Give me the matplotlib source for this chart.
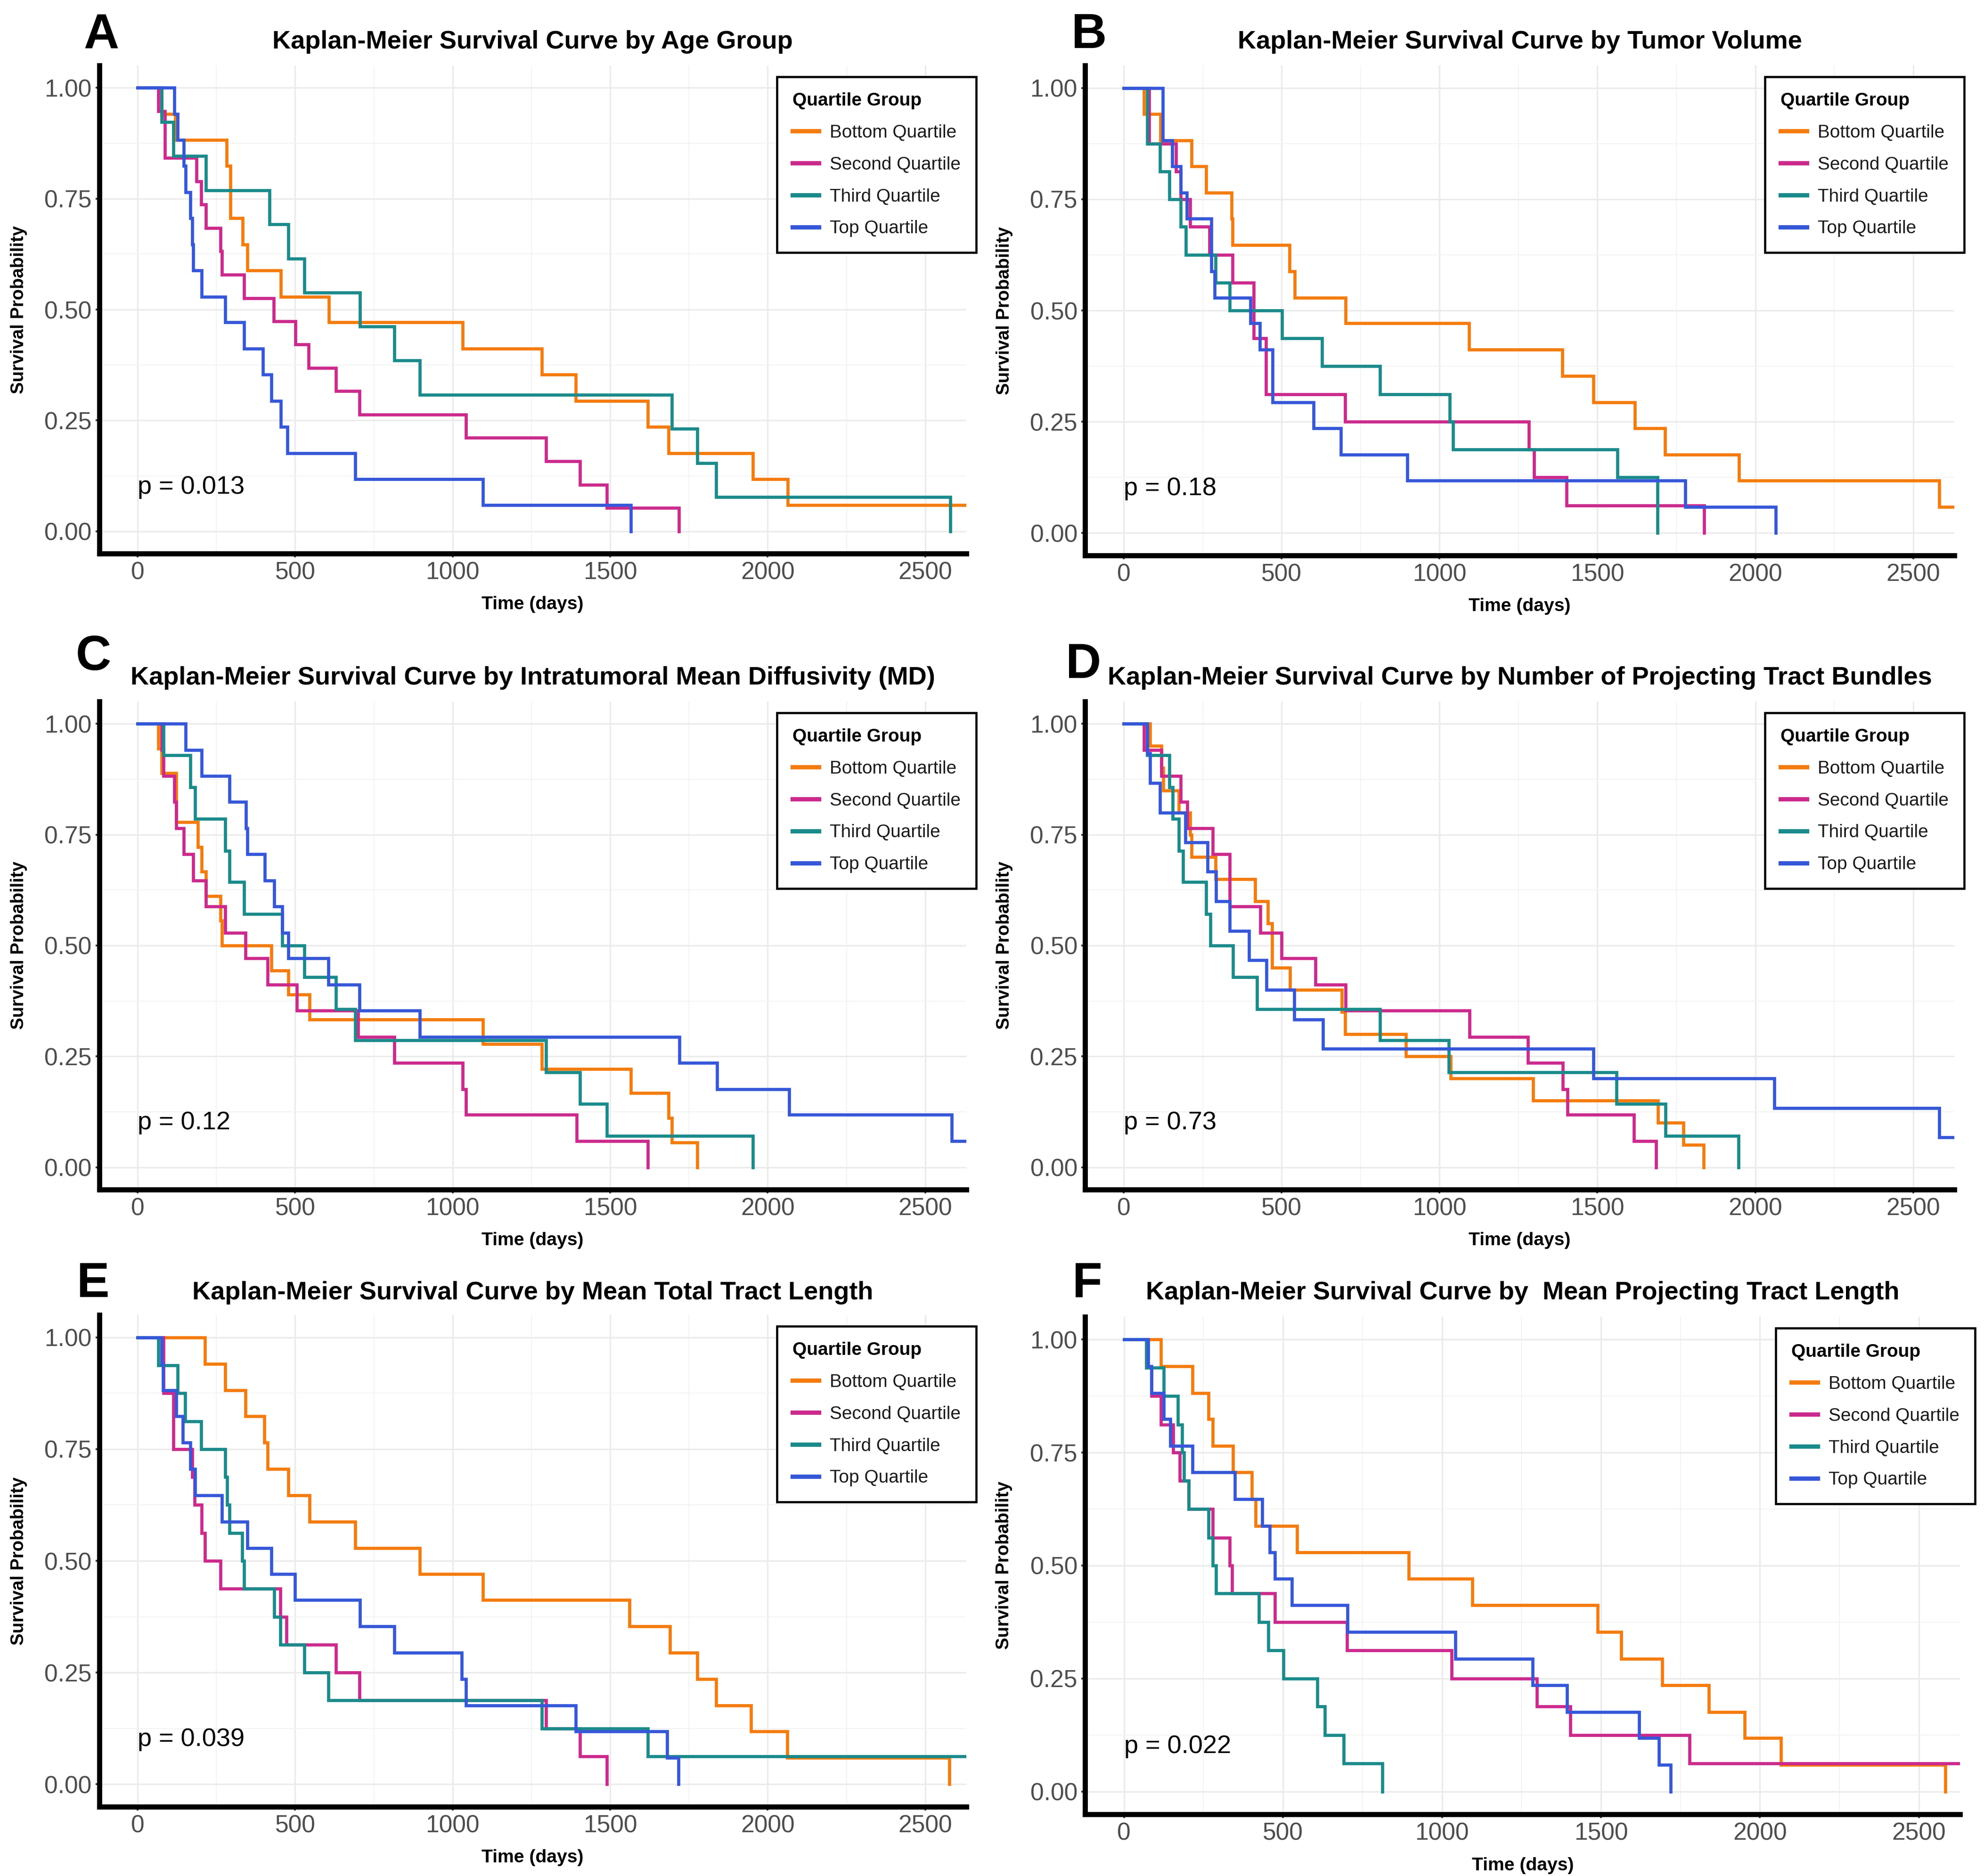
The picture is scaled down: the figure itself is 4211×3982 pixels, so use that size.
import matplotlib
matplotlib.use("Agg")
import matplotlib.pyplot as plt
from matplotlib.ticker import MultipleLocator

# ---- data (time in days, survival prob.) ----
groups = ["Bottom Quartile", "Second Quartile", "Third Quartile", "Top Quartile"]
colors = ["#F47B0E", "#CB2A8C", "#1B8A8A", "#3557D8"]

# A - age group
A_bottom_t = [0, 76, 120, 282, 294, 334, 348, 455, 607, 1032, 1283, 1390, 1619, 1685, 1953, 2064, 2700]
A_bottom_s = [1, 0.941, 0.882, 0.824, 0.706, 0.647, 0.588, 0.529, 0.471, 0.412, 0.353, 0.294, 0.235, 0.176, 0.118, 0.059, 0.059]
A_second_t = [0, 66, 86, 187, 201, 217, 263, 267, 338, 432, 501, 543, 630, 704, 1042, 1297, 1404, 1490, 1718]
A_second_s = [1, 0.947, 0.842, 0.789, 0.737, 0.684, 0.632, 0.579, 0.526, 0.474, 0.421, 0.368, 0.316, 0.263, 0.211, 0.158, 0.105, 0.053, 0.0]
A_third_t = [0, 76, 114, 217, 418, 479, 529, 706, 815, 895, 1695, 1776, 1836, 2580]
A_third_s = [1, 0.923, 0.846, 0.769, 0.692, 0.615, 0.538, 0.462, 0.385, 0.308, 0.231, 0.154, 0.077, 0.0]
A_top_t = [0, 117, 127, 147, 153, 167, 173, 177, 203, 278, 338, 398, 424, 455, 475, 690, 1096, 1565]
A_top_s = [1, 0.941, 0.882, 0.824, 0.765, 0.706, 0.647, 0.588, 0.529, 0.471, 0.412, 0.353, 0.294, 0.235, 0.176, 0.118, 0.059, 0.0]

# B - tumor volume
B_bottom_t = [0, 64, 116, 215, 261, 341, 345, 525, 541, 702, 1093, 1389, 1488, 1618, 1714, 1949, 2582, 2700]
B_bottom_s = [1, 0.941, 0.882, 0.824, 0.765, 0.706, 0.647, 0.588, 0.529, 0.471, 0.412, 0.353, 0.294, 0.235, 0.176, 0.118, 0.059, 0.059]
B_second_t = [0, 80, 166, 180, 210, 271, 345, 411, 451, 701, 1283, 1299, 1403, 1838]
B_second_s = [1, 0.875, 0.812, 0.75, 0.688, 0.625, 0.562, 0.438, 0.312, 0.25, 0.188, 0.125, 0.062, 0.0]
B_third_t = [0, 74, 114, 144, 180, 196, 291, 335, 501, 628, 812, 1032, 1042, 1564, 1690]
B_third_s = [1, 0.875, 0.812, 0.75, 0.688, 0.625, 0.562, 0.5, 0.438, 0.375, 0.312, 0.25, 0.188, 0.125, 0.0]
B_top_t = [0, 124, 154, 180, 200, 277, 287, 401, 431, 471, 601, 688, 898, 1778, 2065]
B_top_s = [1, 0.882, 0.824, 0.765, 0.706, 0.588, 0.529, 0.471, 0.412, 0.294, 0.235, 0.176, 0.118, 0.059, 0.0]

# C - intratumoral MD
C_bottom_t = [0, 66, 76, 123, 191, 203, 217, 263, 267, 424, 479, 545, 1096, 1283, 1565, 1685, 1695, 1776]
C_bottom_s = [1, 0.944, 0.889, 0.778, 0.722, 0.667, 0.611, 0.556, 0.5, 0.444, 0.389, 0.333, 0.278, 0.222, 0.167, 0.111, 0.056, 0.0]
C_second_t = [0, 76, 82, 117, 123, 147, 177, 217, 278, 342, 412, 505, 700, 815, 1032, 1042, 1394, 1619]
C_second_s = [1, 0.941, 0.882, 0.824, 0.765, 0.706, 0.647, 0.588, 0.529, 0.471, 0.412, 0.353, 0.294, 0.235, 0.176, 0.118, 0.059, 0.0]
C_third_t = [0, 82, 167, 183, 278, 292, 338, 459, 529, 630, 690, 1297, 1404, 1490, 1953]
C_third_s = [1, 0.929, 0.857, 0.786, 0.714, 0.643, 0.571, 0.5, 0.429, 0.357, 0.286, 0.214, 0.143, 0.071, 0.0]
C_top_t = [0, 153, 203, 292, 344, 348, 404, 434, 459, 479, 605, 704, 895, 1720, 1840, 2068, 2584, 2700]
C_top_s = [1, 0.941, 0.882, 0.824, 0.765, 0.706, 0.647, 0.588, 0.529, 0.471, 0.412, 0.353, 0.294, 0.235, 0.176, 0.118, 0.059, 0.059]

# D - number of projecting tract bundles
D_bottom_t = [0, 84, 119, 125, 175, 210, 215, 291, 416, 456, 470, 527, 691, 701, 894, 1035, 1296, 1692, 1773, 1837]
D_bottom_s = [1, 0.95, 0.9, 0.85, 0.8, 0.75, 0.7, 0.65, 0.6, 0.55, 0.45, 0.4, 0.35, 0.3, 0.25, 0.2, 0.15, 0.1, 0.05, 0.0]
D_second_t = [0, 64, 119, 181, 201, 281, 335, 432, 500, 607, 703, 1095, 1280, 1391, 1405, 1616, 1686]
D_second_s = [1, 0.941, 0.882, 0.824, 0.765, 0.706, 0.588, 0.529, 0.471, 0.412, 0.353, 0.294, 0.235, 0.176, 0.118, 0.059, 0.0]
D_third_t = [0, 74, 145, 155, 175, 187, 261, 275, 346, 422, 812, 1029, 1561, 1716, 1947]
D_third_s = [1, 0.929, 0.857, 0.786, 0.714, 0.643, 0.571, 0.5, 0.429, 0.357, 0.286, 0.214, 0.143, 0.071, 0.0]
D_top_t = [0, 74, 84, 115, 195, 265, 292, 336, 396, 452, 540, 631, 1487, 2060, 2582, 2700]
D_top_s = [1, 0.933, 0.867, 0.8, 0.733, 0.667, 0.6, 0.533, 0.467, 0.4, 0.333, 0.267, 0.2, 0.133, 0.067, 0.067]

# E - mean total tract length
E_bottom_t = [0, 213, 278, 342, 402, 412, 479, 545, 690, 895, 1096, 1561, 1689, 1776, 1836, 1947, 2062, 2576]
E_bottom_s = [1, 0.941, 0.882, 0.824, 0.765, 0.706, 0.647, 0.588, 0.529, 0.471, 0.412, 0.353, 0.294, 0.235, 0.176, 0.118, 0.059, 0.0]
E_second_t = [0, 82, 113, 173, 181, 203, 213, 263, 453, 473, 630, 704, 1297, 1404, 1490]
E_second_s = [1, 0.875, 0.75, 0.688, 0.625, 0.562, 0.5, 0.438, 0.375, 0.312, 0.25, 0.188, 0.125, 0.062, 0.0]
E_third_t = [0, 66, 127, 151, 201, 278, 284, 292, 332, 338, 434, 453, 529, 605, 1283, 1619, 2700]
E_third_s = [1, 0.938, 0.875, 0.812, 0.75, 0.688, 0.625, 0.562, 0.5, 0.438, 0.375, 0.312, 0.25, 0.188, 0.125, 0.062, 0.062]
E_top_t = [0, 76, 80, 123, 143, 167, 183, 267, 348, 424, 499, 706, 815, 1028, 1042, 1390, 1681, 1716]
E_top_s = [1, 0.941, 0.882, 0.824, 0.765, 0.706, 0.647, 0.588, 0.529, 0.471, 0.412, 0.353, 0.294, 0.235, 0.176, 0.118, 0.059, 0.0]

# F - mean projecting tract length
F_bottom_t = [0, 116, 215, 265, 279, 343, 402, 414, 544, 896, 1096, 1490, 1564, 1693, 1839, 1952, 2066, 2584]
F_bottom_s = [1, 0.941, 0.882, 0.824, 0.765, 0.706, 0.647, 0.588, 0.529, 0.471, 0.412, 0.353, 0.294, 0.235, 0.176, 0.118, 0.059, 0.0]
F_second_t = [0, 70, 86, 116, 155, 175, 203, 279, 333, 339, 474, 701, 1030, 1299, 1404, 1779, 2700]
F_second_s = [1, 0.938, 0.875, 0.812, 0.75, 0.688, 0.625, 0.562, 0.5, 0.438, 0.375, 0.312, 0.25, 0.188, 0.125, 0.062, 0.062]
F_third_t = [0, 70, 125, 169, 183, 189, 203, 265, 279, 289, 424, 454, 502, 608, 631, 691, 813]
F_third_s = [1, 0.938, 0.875, 0.812, 0.75, 0.688, 0.625, 0.562, 0.5, 0.438, 0.375, 0.312, 0.25, 0.188, 0.125, 0.062, 0.0]
F_top_t = [0, 76, 86, 125, 145, 215, 349, 434, 458, 474, 528, 703, 1042, 1285, 1394, 1620, 1683, 1719]
F_top_s = [1, 0.941, 0.882, 0.824, 0.765, 0.706, 0.647, 0.588, 0.529, 0.471, 0.412, 0.353, 0.294, 0.235, 0.176, 0.118, 0.059, 0.0]

letters = ["A", "B", "C", "D", "E", "F"]
titles = [
    "Kaplan-Meier Survival Curve by Age Group",
    "Kaplan-Meier Survival Curve by Tumor Volume",
    "Kaplan-Meier Survival Curve by Intratumoral Mean Diffusivity (MD)",
    "Kaplan-Meier Survival Curve by Number of Projecting Tract Bundles",
    "Kaplan-Meier Survival Curve by Mean Total Tract Length",
    "Kaplan-Meier Survival Curve by  Mean Projecting Tract Length",
]
p_values = ["p = 0.013", "p = 0.18", "p = 0.12", "p = 0.73", "p = 0.039", "p = 0.022"]

curves = [
    [(A_bottom_t, A_bottom_s), (A_second_t, A_second_s), (A_third_t, A_third_s), (A_top_t, A_top_s)],
    [(B_bottom_t, B_bottom_s), (B_second_t, B_second_s), (B_third_t, B_third_s), (B_top_t, B_top_s)],
    [(C_bottom_t, C_bottom_s), (C_second_t, C_second_s), (C_third_t, C_third_s), (C_top_t, C_top_s)],
    [(D_bottom_t, D_bottom_s), (D_second_t, D_second_s), (D_third_t, D_third_s), (D_top_t, D_top_s)],
    [(E_bottom_t, E_bottom_s), (E_second_t, E_second_s), (E_third_t, E_third_s), (E_top_t, E_top_s)],
    [(F_bottom_t, F_bottom_s), (F_second_t, F_second_s), (F_third_t, F_third_s), (F_top_t, F_top_s)],
]

# ---- layout (figure fractions) ----
ax_rects = [
    [0.050, 0.705, 0.437, 0.260],
    [0.547, 0.704, 0.438, 0.261],
    [0.050, 0.366, 0.437, 0.260],
    [0.547, 0.366, 0.438, 0.260],
    [0.050, 0.037, 0.437, 0.262],
    [0.547, 0.033, 0.441, 0.265],
]
title_y = [0.9776, 0.9776, 0.6386, 0.6386, 0.3110, 0.3110]
letter_pos = [(0.051, 0.981), (0.549, 0.981), (0.047, 0.6495), (0.546, 0.6454), (0.047, 0.3153), (0.548, 0.3153)]
legend_anchor = [(0.492, 0.959), (0.990, 0.959), (0.492, 0.620), (0.990, 0.620), (0.492, 0.293), (0.9955, 0.292)]

narrow = ["Liberation Sans Narrow", "Liberation Sans", "DejaVu Sans"]
regular = ["Liberation Sans", "DejaVu Sans"]
plt.rcParams["font.family"] = regular

fig = plt.figure(figsize=(4211 / 300, 3982 / 300), dpi=300)
fig.patch.set_facecolor("white")

for i in range(6):
    ax = fig.add_axes(ax_rects[i])
    for (t, s), col, name in zip(curves[i], colors, groups):
        ax.plot(t, s, drawstyle="steps-post", color=col, lw=1.6, label=name,
                solid_joinstyle="miter")

    ax.set_xlim(-122, 2630)
    ax.set_ylim(-0.05, 1.05)
    ax.xaxis.set_major_locator(MultipleLocator(500))
    ax.xaxis.set_minor_locator(MultipleLocator(250))
    ax.yaxis.set_major_locator(MultipleLocator(0.25))
    ax.yaxis.set_minor_locator(MultipleLocator(0.125))
    ax.yaxis.set_major_formatter(matplotlib.ticker.FormatStrFormatter("%.2f"))
    ax.grid(which="major", color="#EBEBEB", lw=0.8)
    ax.grid(which="minor", color="#F3F3F3", lw=0.45)
    ax.set_axisbelow(True)

    for side in ["top", "right"]:
        ax.spines[side].set_visible(False)
    for side in ["left", "bottom"]:
        ax.spines[side].set_linewidth(2.6)
        ax.spines[side].set_color("black")
    ax.tick_params(which="major", length=2.0, width=0.9, color="#333333",
                   labelcolor="#4D4D4D", labelsize=12.4, pad=2)
    ax.tick_params(which="minor", length=0)
    for lab in ax.get_xticklabels() + ax.get_yticklabels():
        lab.set_family(narrow)

    ax.set_xlabel("Time (days)", fontsize=9.4, fontweight="bold", family=narrow)
    ax.xaxis.set_label_coords(0.5, -0.087)
    ax.set_ylabel("Survival Probability", fontsize=9.2, fontweight="bold")
    ax.yaxis.set_label_coords(-0.083, 0.5)

    ax.text(0, 0.1, p_values[i], fontsize=13, ha="left", va="center", color="black")

    leg = ax.legend(title="Quartile Group", loc="upper right",
                    bbox_to_anchor=legend_anchor[i], bbox_transform=fig.transFigure,
                    fontsize=9.3, title_fontproperties={"weight": "bold", "size": 9.3},
                    alignment="left", frameon=True, fancybox=False, edgecolor="black",
                    framealpha=1, borderpad=0.85, handlelength=1.45, handletextpad=0.6,
                    labelspacing=0.82, borderaxespad=0)
    leg.get_frame().set_linewidth(1.1)
    for h in leg.get_lines():
        h.set_linewidth(2.2)
    for txt in leg.get_texts():
        txt.set_color("#1A1A1A")

    cx = ax_rects[i][0] + ax_rects[i][2] / 2
    fig.text(cx, title_y[i], titles[i], ha="center", va="center", fontsize=13,
             fontweight="bold", family=narrow)
    fig.text(letter_pos[i][0], letter_pos[i][1], letters[i], ha="center", va="center",
             fontsize=25, fontweight="bold")

fig.savefig("out.png", dpi=300, facecolor="white")
